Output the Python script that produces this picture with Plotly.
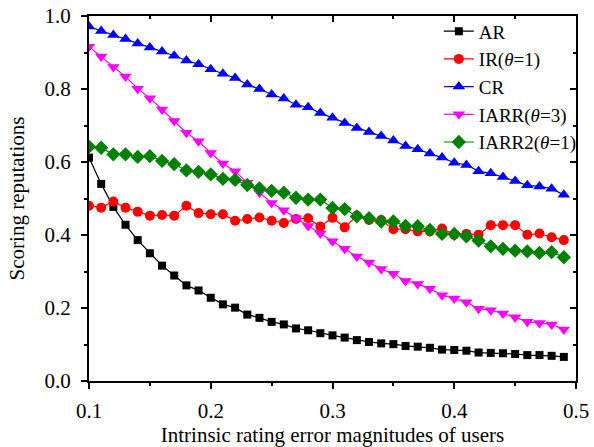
import plotly.graph_objects as go

x_vals = [round(0.10 + 0.01 * i, 2) for i in range(40)]

ar = [0.612, 0.540, 0.477, 0.428, 0.386, 0.350, 0.316, 0.289, 0.262, 0.248,
      0.228, 0.210, 0.201, 0.182, 0.173, 0.162, 0.155, 0.144, 0.139, 0.131,
      0.125, 0.119, 0.112, 0.107, 0.103, 0.101, 0.096, 0.094, 0.091, 0.086,
      0.085, 0.083, 0.078, 0.077, 0.076, 0.074, 0.071, 0.071, 0.069, 0.066]

ir = [0.480, 0.475, 0.492, 0.475, 0.464, 0.453, 0.455, 0.453, 0.480, 0.460,
      0.457, 0.457, 0.439, 0.444, 0.448, 0.439, 0.433, 0.444, 0.446, 0.423,
      0.447, 0.421, 0.453, 0.441, 0.441, 0.416, 0.416, 0.410, 0.410, 0.418,
      0.401, 0.403, 0.401, 0.427, 0.427, 0.427, 0.401, 0.404, 0.394, 0.386]

cr = [0.971, 0.959, 0.948, 0.937, 0.925, 0.914, 0.903, 0.891, 0.878, 0.868,
      0.854, 0.842, 0.830, 0.812, 0.800, 0.785, 0.774, 0.757, 0.750, 0.734,
      0.721, 0.707, 0.693, 0.682, 0.671, 0.659, 0.644, 0.635, 0.623, 0.612,
      0.598, 0.592, 0.575, 0.569, 0.559, 0.548, 0.536, 0.533, 0.527, 0.510]

iarr = [0.916, 0.889, 0.860, 0.834, 0.801, 0.775, 0.744, 0.712, 0.680, 0.657,
        0.625, 0.596, 0.575, 0.543, 0.516, 0.488, 0.468, 0.446, 0.425, 0.404,
        0.383, 0.362, 0.341, 0.325, 0.307, 0.294, 0.274, 0.266, 0.253, 0.235,
        0.226, 0.216, 0.198, 0.194, 0.185, 0.175, 0.162, 0.159, 0.155, 0.141]

iarr2 = [0.642, 0.639, 0.621, 0.621, 0.614, 0.616, 0.603, 0.594, 0.577, 0.573,
         0.566, 0.554, 0.551, 0.537, 0.528, 0.521, 0.516, 0.502, 0.497, 0.497,
         0.474, 0.471, 0.451, 0.446, 0.437, 0.437, 0.425, 0.424, 0.414, 0.403,
         0.403, 0.396, 0.385, 0.369, 0.362, 0.357, 0.355, 0.351, 0.353, 0.339]

series = [
    ("AR", ar, "black", "square", 8),
    ("IR(<i>θ</i>=1)", ir, "red", "circle", 10),
    ("CR", cr, "blue", "triangle-up", 11),
    ("IARR(<i>θ</i>=3)", iarr, "magenta", "triangle-down", 11),
    ("IARR2(<i>θ</i>=1)", iarr2, "green", "diamond", 11),
]

FONT = "Liberation Serif, Times New Roman, serif"
FS = 21

fig = go.Figure()
for name, vals, color, sym, sz in series:
    fig.add_trace(go.Scatter(
        x=x_vals, y=vals, name=name, mode="lines+markers",
        line=dict(color=color, width=1.2),
        marker=dict(symbol=sym, size=sz, color=color, line=dict(width=0)),
    ))

axis_common = dict(
    showline=True, linecolor="black", linewidth=2,
    showgrid=False, zeroline=False, automargin=False,
    ticks="outside", ticklen=6, tickwidth=2, tickcolor="black",
    tickfont=dict(family=FONT, size=FS, color="black"),
)

mirror_common = dict(
    showline=True, linecolor="black", linewidth=2, showgrid=False, zeroline=False,
    automargin=False, ticks="inside", ticklen=6, tickwidth=2, tickcolor="black",
    showticklabels=False,
)

fig.update_layout(
    width=594, height=447,
    margin=dict(l=89, r=14, t=14, b=66),
    paper_bgcolor="white", plot_bgcolor="white",
    font=dict(family=FONT, size=FS, color="black"),
    showlegend=True,
    legend=dict(
        x=1.012, y=1.01, xanchor="right", yanchor="top",
        bgcolor="rgba(0,0,0,0)", borderwidth=0,
        font=dict(family=FONT, size=19, color="black"),
        tracegroupgap=0, itemwidth=30,
    ),
    xaxis=dict(
        range=[0.1, 0.5], dtick=0.1, tick0=0.1, tickformat=".1f",
        minor=dict(dtick=0.05, ticklen=3, tickwidth=2, tickcolor="black", ticks="outside"),
        title=dict(text="Intrinsic rating error magnitudes of users",
                   font=dict(family=FONT, size=FS, color="black"), standoff=6),
        ticklabelstandoff=4,
        **axis_common,
    ),
    yaxis=dict(
        range=[0, 1.0], dtick=0.2, tickformat=".1f",
        minor=dict(dtick=0.1, ticklen=3, tickwidth=2, tickcolor="black", ticks="outside"),
        title=dict(text="Scoring reputations",
                   font=dict(family=FONT, size=FS, color="black"), standoff=14),
        ticklabelstandoff=6,
        **axis_common,
    ),
    xaxis2=dict(
        overlaying="x", side="top", matches="x", range=[0.1, 0.5],
        dtick=0.1, tick0=0.1,
        minor=dict(dtick=0.05, ticklen=3, tickwidth=2, tickcolor="black", ticks="inside"),
        **mirror_common,
    ),
    yaxis2=dict(
        overlaying="y", side="right", matches="y", range=[0, 1.0],
        dtick=0.2,
        minor=dict(dtick=0.1, ticklen=3, tickwidth=2, tickcolor="black", ticks="inside"),
        **mirror_common,
    ),
)

# invisible trace to activate mirrored axes
fig.add_trace(go.Scatter(x=[x_vals[0]], y=[ar[0]], xaxis="x2", yaxis="y2",
                         mode="markers", marker=dict(opacity=0), showlegend=False,
                         hoverinfo="skip"))

fig.write_html("out.html")
